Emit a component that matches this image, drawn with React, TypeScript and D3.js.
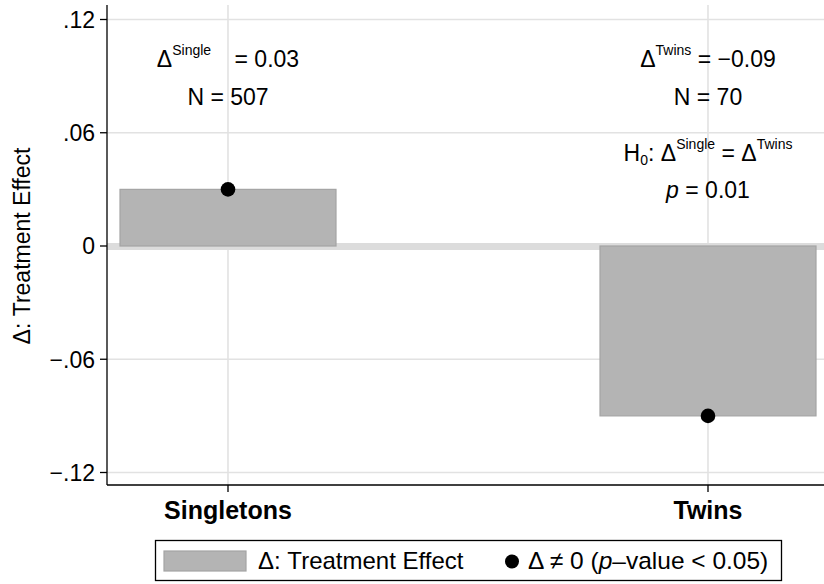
import React from "react";
import * as d3 from "d3";

// Treatment effect by birth type
const categories = ["Singletons", "Twins"];
const effects = [0.03, -0.09];
const sampleSizes = [507, 70];
const superLabels = ["Single", "Twins"];
const effectLabels = ["0.03", "\u22120.09"];
const significant = [true, true];
const yTicks = [0.12, 0.06, 0, -0.06, -0.12];
const yTickLabels = [".12", ".06", "0", "\u2212.06", "\u2212.12"];
const diffPValue = "0.01";

const W = 824;
const H = 584;
const FONT = "'Liberation Sans', Arial, Helvetica, sans-serif";

export default function App() {
  const plotLeft = 107;
  const plotRight = 824;
  const plotTop = 5;
  const plotBottom = 485;

  const x = d3.scalePoint<string>().domain(categories).range([228, 708]);
  const y = d3.scaleLinear().domain([-0.12, 0.12]).range([472.5, 19.5]);
  const barW = 216;

  const grid = "#e2e2e2";
  const fs = 23;
  const sup = 14;

  return (
    <svg
      width={W}
      height={H}
      style={{ position: "absolute", left: 0, top: 0, background: "#fff" }}
      fontFamily={FONT}
    >
      <rect x={0} y={0} width={W} height={H} fill="#fff" />

      {/* horizontal grid */}
      {yTicks.filter((t) => t !== 0).map((t) => (
        <line key={t} x1={plotLeft} x2={plotRight} y1={y(t)} y2={y(t)} stroke={grid} strokeWidth={1.6} />
      ))}
      {/* vertical grid at categories */}
      {categories.map((c) => (
        <line key={c} x1={x(c)} x2={x(c)} y1={plotTop} y2={plotBottom} stroke={grid} strokeWidth={1.6} />
      ))}
      {/* zero reference band */}
      <line x1={plotLeft} x2={plotRight} y1={y(0) + 0.5} y2={y(0) + 0.5} stroke="#dcdcdc" strokeWidth={7} />

      {/* bars */}
      {categories.map((c, i) => {
        const v = effects[i];
        const y0 = y(Math.max(0, v));
        const y1 = y(Math.min(0, v));
        return (
          <rect
            key={c}
            x={(x(c) as number) - barW / 2}
            y={y0}
            width={barW}
            height={y1 - y0}
            fill="#b4b4b4"
            stroke="#a4a4a4"
            strokeWidth={1.2}
          />
        );
      })}

      {/* significance dots */}
      {categories.map((c, i) =>
        significant[i] ? <circle key={c} cx={x(c)} cy={y(effects[i])} r={7.3} fill="#000" /> : null
      )}

      {/* axes */}
      <line x1={plotLeft} x2={plotLeft} y1={plotTop} y2={plotBottom} stroke="#000" strokeWidth={1.3} />
      <line x1={plotLeft} x2={plotRight} y1={plotBottom} y2={plotBottom} stroke="#000" strokeWidth={1.3} />
      {yTicks.map((t, i) => (
        <g key={t}>
          <line x1={plotLeft - 7} x2={plotLeft} y1={y(t)} y2={y(t)} stroke="#000" strokeWidth={1.3} />
          <text x={plotLeft - 12} y={y(t)} dy="0.36em" textAnchor="end" fontSize={fs}>
            {yTickLabels[i]}
          </text>
        </g>
      ))}
      {categories.map((c) => (
        <g key={c}>
          <line x1={x(c)} x2={x(c)} y1={plotBottom} y2={plotBottom + 7} stroke="#000" strokeWidth={1.3} />
          <text x={x(c)} y={519} textAnchor="middle" fontSize={25} fontWeight="bold">
            {c}
          </text>
        </g>
      ))}

      <text
        transform={`translate(30,${y(0)}) rotate(-90)`}
        textAnchor="middle"
        fontSize={fs}
      >
        {"\u0394: Treatment Effect"}
      </text>

      {/* annotations */}
      {categories.map((c, i) => (
        <g key={c}>
          <text x={x(c)} y={67} textAnchor="middle" fontSize={fs}>
            {"\u0394"}
            <tspan fontSize={sup} dy={-12}>{superLabels[i]}</tspan>
            <tspan dy={12} dx={i === 0 ? 17 : 0}>{` = ${effectLabels[i]}`}</tspan>
          </text>
          <text x={x(c)} y={105} textAnchor="middle" fontSize={fs}>
            {`N = ${sampleSizes[i]}`}
          </text>
        </g>
      ))}
      <text x={x("Twins")} y={161} textAnchor="middle" fontSize={fs}>
        H
        <tspan fontSize={sup} dy={4}>0</tspan>
        <tspan dy={-4}>{": \u0394"}</tspan>
        <tspan fontSize={sup} dy={-12}>Single</tspan>
        <tspan dy={12}>{" = \u0394"}</tspan>
        <tspan fontSize={sup} dy={-12}>Twins</tspan>
      </text>
      <text x={x("Twins")} y={198} textAnchor="middle" fontSize={fs}>
        <tspan fontStyle="italic">p</tspan>
        {` = ${diffPValue}`}
      </text>

      {/* legend */}
      <g>
        <rect x={155.5} y={540.5} width={626} height={40} fill="#fff" stroke="#000" strokeWidth={1.3} />
        <rect x={164} y={551} width={82} height={20} fill="#b4b4b4" stroke="#a4a4a4" strokeWidth={1.2} />
        <text x={258} y={569} fontSize={24}>{"\u0394: Treatment Effect"}</text>
        <circle cx={512} cy={561.5} r={7} fill="#000" />
        <text x={528} y={569} fontSize={24.5}>
          {"\u0394 \u2260 0 ("}
          <tspan fontStyle="italic">p</tspan>
          {"\u2013value < 0.05)"}
        </text>
      </g>
    </svg>
  );
}
